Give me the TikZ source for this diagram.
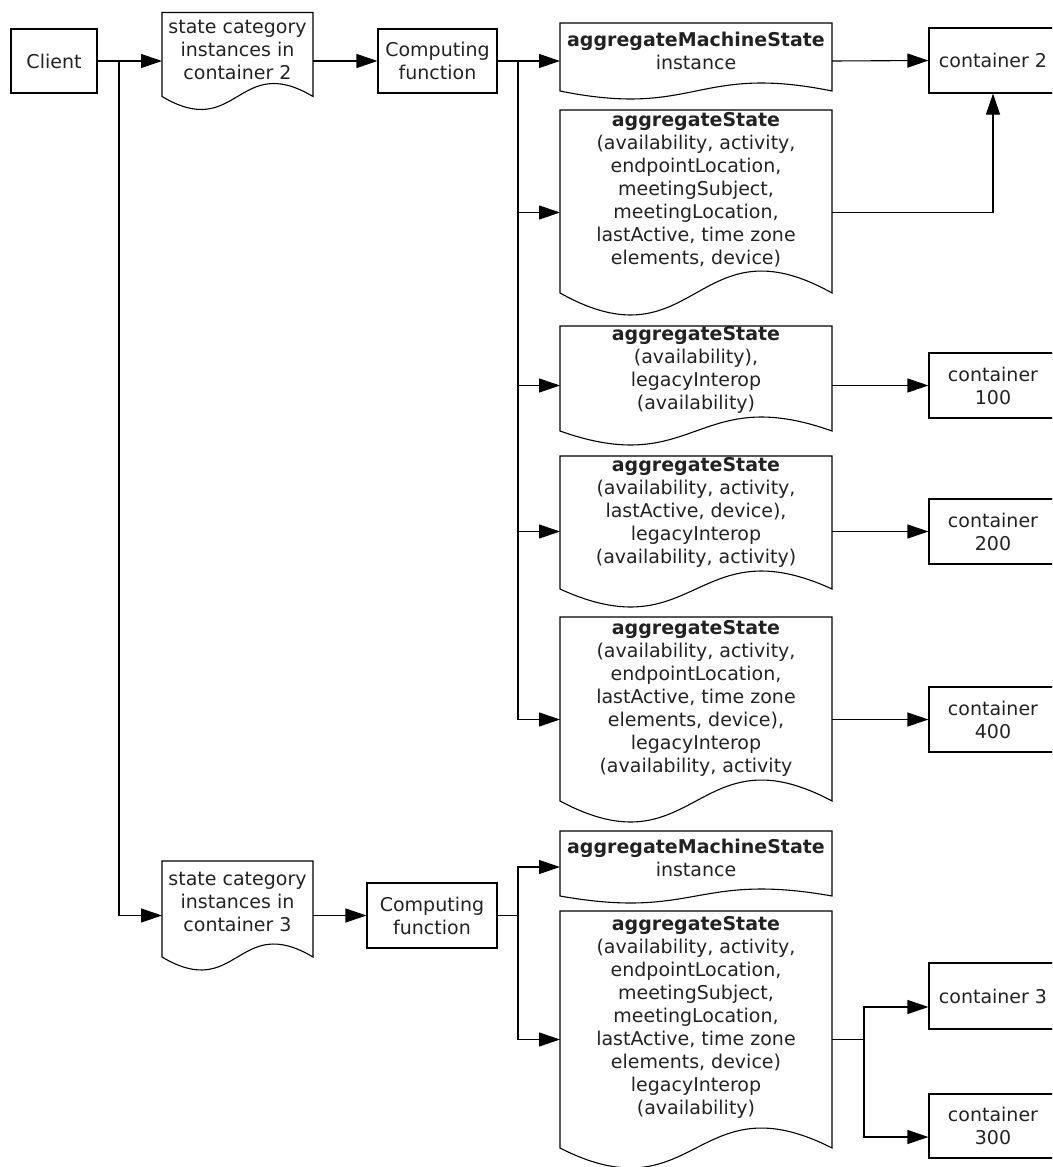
\documentclass[tikz,border=0pt]{standalone}
\usepackage{fontspec}
\setmainfont{DejaVu Sans}
\usetikzlibrary{arrows.meta}
\definecolor{txt}{HTML}{222222}
\newcommand\fs{\fontsize{19pt}{23pt}\selectfont}
% document shape drawn around a named (invisible) node; #2 = wave amplitude
\newcommand\docshape[2]{%
  \pgfmathsetmacro\dup{4.46*#2}%
  \pgfmathsetmacro\ddn{-2.46*#2}%
  \draw[plain] (#1.north west) -- (#1.north east) -- ([yshift=#2pt]#1.south east)
    .. controls ([yshift=\dup pt]#1.south) and ([yshift=\ddn pt]#1.south) .. ([yshift=#2pt]#1.south west) -- cycle;}
\tikzset{
  plain/.style={line width=1.1pt},
  box/.style={draw, line width=1.1pt, minimum height=64pt, inner sep=0pt, align=center, font=\fs, text=txt},
  docnode/.style={minimum width=272pt, inner sep=0pt, outer sep=0pt},
  lbl/.style={align=center, font=\fs, text=txt, inner sep=0pt},
  conn/.style={line width=1.1pt, -{Triangle[length=21pt,width=14pt]}},
}
\begin{document}
\begin{tikzpicture}[x=1pt,y=-1pt]
\useasboundingbox (0,0) rectangle (1052,1167);
\clip (0,0) rectangle (1052,1167);

% left column
\node[box, minimum width=86pt] (client) at (54,61) {Client};
\node[docnode, minimum width=151pt, minimum height=97pt] (sc2) at (237.5,61) {};
\docshape{sc2}{13}
\node[lbl] (sc2t) at (237.5,50) {state category\\instances in\\container 2};
\node[box, minimum width=119pt] (cf1) at (437.5,61) {Computing\\function};

\node[docnode, minimum width=151pt, minimum height=109pt] (sc3) at (237.5,915.5) {};
\docshape{sc3}{13}
\node[lbl] (sc3t) at (237.5,902) {state category\\instances in\\container 3};
\node[box, minimum width=130pt, minimum height=65pt] (cf2) at (432,915.5) {Computing\\function};

% documents, first group
\node[docnode, minimum height=76pt] (ams1) at (696,61) {};
\docshape{ams1}{8}
\node[lbl] (ams1t) at (696,51) {\textbf{aggregateMachineState}\\instance};

\node[docnode, minimum height=205pt] (as1) at (696,212.5) {};
\docshape{as1}{22}
\node[lbl] (as1t) at (696,190) {\textbf{aggregateState}\\(availability, activity,\\endpointLocation,\\meetingSubject,\\meetingLocation,\\lastActive, time zone\\elements, device)};

\node[docnode, minimum height=119pt] (as2) at (696,385.5) {};
\docshape{as2}{14}
\node[lbl] (as2t) at (696,370) {\textbf{aggregateState}\\(availability),\\legacyInterop\\(availability)};

\node[docnode, minimum height=151pt] (as3) at (696,531.5) {};
\docshape{as3}{18}
\node[lbl] (as3t) at (696,512) {\textbf{aggregateState}\\(availability, activity,\\lastActive, device),\\legacyInterop\\(availability, activity)};

\node[docnode, minimum height=205pt] (as4) at (696,719.5) {};
\docshape{as4}{21}
\node[lbl] (as4t) at (696,698) {\textbf{aggregateState}\\(availability, activity,\\endpointLocation,\\lastActive, time zone\\elements, device),\\legacyInterop\\(availability, activity};

% documents, second group
\node[docnode, minimum height=72pt] (ams2) at (696,867) {};
\docshape{ams2}{7}
\node[lbl] (ams2t) at (696,858) {\textbf{aggregateMachineState}\\instance};

\node[docnode, minimum height=257pt] (as5) at (696,1039.5) {};
\docshape{as5}{20}
\node[lbl] (as5t) at (696,1017) {\textbf{aggregateState}\\(availability, activity,\\endpointLocation,\\meetingSubject,\\meetingLocation,\\lastActive, time zone\\elements, device)\\legacyInterop\\(availability)};

% containers (cut by the right edge)
\node[box, minimum width=128pt, minimum height=65pt] (ct2) at (993,60.5) {container 2};
\node[box, minimum width=128pt, minimum height=65pt] (ct100) at (993,385.5) {container\\100};
\node[box, minimum width=128pt, minimum height=65pt] (ct200) at (993,531.5) {container\\200};
\node[box, minimum width=128pt, minimum height=65pt] (ct400) at (993,719.5) {container\\400};
\node[box, minimum width=128pt, minimum height=66pt] (ct3) at (993,996) {container 3};
\node[box, minimum width=128pt, minimum height=64pt] (ct300) at (993,1126) {container\\300};

% connectors
\coordinate (b1) at (119,61);
\draw[conn] (client.east) -- (sc2.west);
\draw[conn] (b1) |- (sc3.west);
\draw[conn] (sc2.east) -- (cf1.west);
\draw[conn] (sc3.east) -- (cf2.west);

\coordinate (t1) at (518,61);
\draw[plain] (cf1.east) -- (t1);
\draw[conn] (t1) -- (ams1.west);
\draw[conn] (t1) |- (as1.west);
\draw[conn] (t1) |- (as2.west);
\draw[conn] (t1) |- (as3.west);
\draw[conn] (t1) |- (as4.west);

\coordinate (t2) at (518,915.5);
\draw[plain] (cf2.east) -- (t2);
\draw[conn] (t2) |- (ams2.west);
\draw[conn] (t2) |- (as5.west);

\draw[conn] (ams1.east) -- (ct2.west);
\draw[conn] (as1.east) -| (ct2.south);
\draw[conn] (as2.east) -- (ct100.west);
\draw[conn] (as3.east) -- (ct200.west);
\draw[conn] (as4.east) -- (ct400.west);

\coordinate (j) at (864,1039.5);
\draw[plain] (as5.east) -- (j);
\draw[conn] (j) |- ([yshift=-11pt]ct3.west);
\draw[conn] (j) |- ([yshift=-11pt]ct300.west);
\end{tikzpicture}
\end{document}
